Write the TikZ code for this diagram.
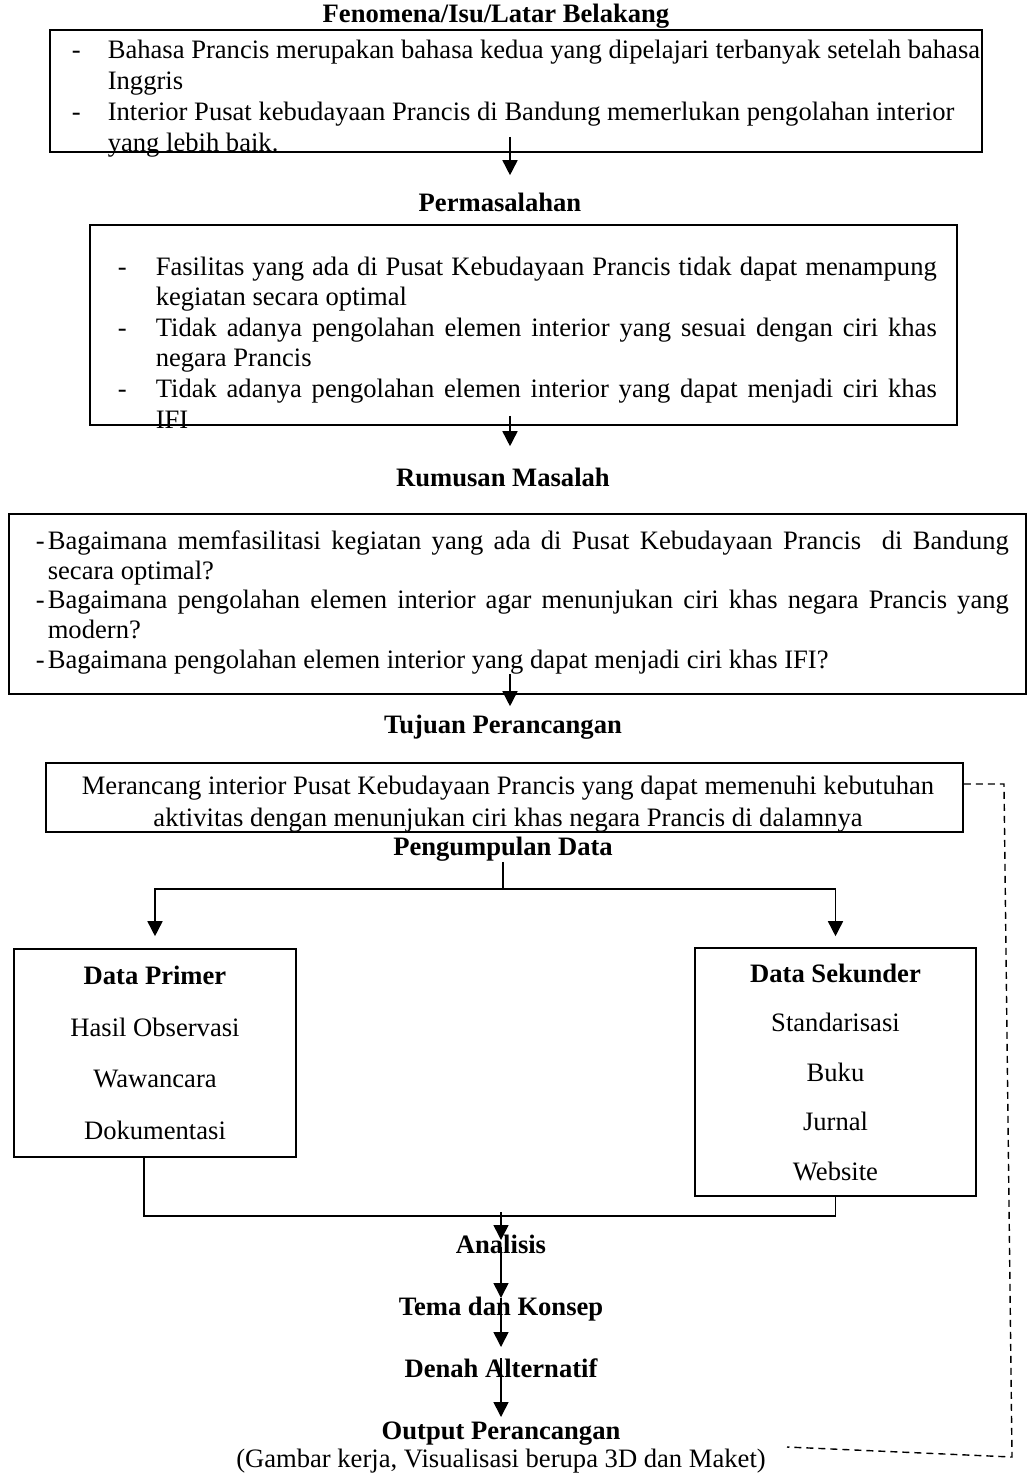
\documentclass[tikz,border=0pt]{standalone}
\usepackage{fontspec}
\setmainfont{Liberation Serif}
\usetikzlibrary{arrows.meta,calc}
\newcommand{\figfont}[1]{\fontsize{26.6pt}{#1pt}\selectfont}

\begin{document}
\begin{tikzpicture}[x=1pt,y=-1pt,->,>={Triangle[length=15pt,width=15pt]},line width=1.6pt,node distance=62pt,
    box/.style={draw,inner sep=0pt},
    lbl/.style={inner sep=0pt,text height=18pt,text depth=6pt,font=\figfont{31}},
    head/.style={lbl,font=\figfont{31}\bfseries},
    txt/.style={inner sep=0pt,align=left,anchor=north west},
    dashed line/.style={-,dash pattern=on 7pt off 5pt,line width=1.4pt}]
    \useasboundingbox (0,0) rectangle (1028,1475);

    \node[head] (fenh) at (496,16) {Fenomena/Isu/Latar Belakang};
    \node[box,minimum width=932pt,minimum height=122pt] (fen) at (516,91) {};
    \node[txt,font=\figfont{31}] (fent) at (71,38.8) {\makebox[36pt][l]{-}Bahasa Prancis merupakan bahasa kedua yang dipelajari terbanyak setelah bahasa\\\hspace*{36pt}Inggris\\\makebox[36pt][l]{-}Interior Pusat kebudayaan Prancis di Bandung memerlukan pengolahan interior\\\hspace*{36pt}yang lebih baik.};

    \node[head] (permh) at (500,205) {Permasalahan};
    \node[box,minimum width=867pt,minimum height=200pt] (perm) at (523.5,325) {};
    \node[txt,font=\figfont{30.6}] (permt) at (117,255.8) {\makebox[38pt][l]{-}\makebox[781pt][s]{Fasilitas yang ada di Pusat Kebudayaan Prancis tidak dapat menampung}\\\hspace*{38pt}kegiatan secara optimal\\\makebox[38pt][l]{-}\makebox[781pt][s]{Tidak adanya pengolahan elemen interior yang sesuai dengan ciri khas}\\\hspace*{38pt}negara Prancis\\\makebox[38pt][l]{-}\makebox[781pt][s]{Tidak adanya pengolahan elemen interior yang dapat menjadi ciri khas}\\\hspace*{38pt}IFI};

    \node[head] (rumh) at (503,480) {Rumusan Masalah};
    \node[box,minimum width=1017pt,minimum height=180pt] (rum) at (517.5,604) {};
    \node[txt,font=\figfont{29.8}] (rumt) at (47,529.8) {\llap{-\hspace{3pt}}\makebox[961pt][s]{Bagaimana memfasilitasi kegiatan yang ada di Pusat Kebudayaan Prancis\ \ di Bandung}\\secara optimal?\\\llap{-\hspace{3pt}}\makebox[961pt][s]{Bagaimana pengolahan elemen interior agar menunjukan ciri khas negara Prancis yang}\\modern?\\\llap{-\hspace{3pt}}Bagaimana pengolahan elemen interior yang dapat menjadi ciri khas IFI?};

    \node[head] (tujh) at (503,727) {Tujuan Perancangan};
    \node[box,minimum width=917pt,minimum height=69pt] (tuj) at (504.5,797.5) {};
    \node[inner sep=0pt,align=center,anchor=north,font=\figfont{32}] (tujt) at (508,774.8) {Merancang interior Pusat Kebudayaan Prancis yang dapat memenuhi kebutuhan\\aktivitas dengan menunjukan ciri khas negara Prancis di dalamnya};

    \node[head] (peng) at (503,849) {Pengumpulan Data};
    \node[box,minimum width=282pt,minimum height=208pt,align=center,font=\figfont{51.7}] (prim) at (155,1053) {\textbf{Data Primer}\\Hasil Observasi\\Wawancara\\Dokumentasi};
    \node[box,minimum width=281pt,minimum height=248pt,align=center,font=\figfont{49.5}] (sek) at (835.5,1072) {\textbf{Data Sekunder}\\Standarisasi\\Buku\\Jurnal\\Website};

    \node[head] (ana) at (501,1247) {Analisis};
    \node[head] (tema) [below of=ana] {Tema dan Konsep};
    \node[head] (denah) [below of=tema] {Denah Alternatif};
    \node[head] (out) [below of=denah] {Output Perancangan};
    \node[lbl] (outsub) [below of=out,node distance=28pt] {(Gambar kerja, Visualisasi berupa 3D dan Maket)};

    \coordinate (col) at (510,0);
    \coordinate (join) at (501,1216);
    \coordinate (dtop) at (1004,784);
    \coordinate (dbot) at (1012,1457);
    \coordinate (dend) at (787,1447);

    \draw ($(fen.south -| col)+(0,-16)$) -- ($(permh.north -| col)+(0,-17)$);
    \draw ($(perm.south -| col)+(0,-10)$) -- ($(rumh.north -| col)+(0,-21)$);
    \draw ($(rum.south -| col)+(0,-21)$) -- ($(tujh.north -| col)+(0,-8)$);
    \draw[-] (peng.south) -- ++(0,27) coordinate (split);
    \draw[shorten >=12pt] (split) -| (prim.north);
    \draw[shorten >=11pt] (split) -| (sek.north);
    \draw[-] ([xshift=-11pt]prim.south) |- (join) -| (sek.south);
    \draw ([yshift=4pt]join) -- ([yshift=7pt]ana.center);
    \draw (ana.center) -- ([yshift=11pt]tema.center);
    \draw ([yshift=11pt]tema.center) -- ([yshift=24pt]denah.center);
    \draw (denah.north) -- ([yshift=16pt]out.center);
    \draw[dashed line] (tuj.east |- dtop) -- (dtop) -- (dbot) -- (dend);
\end{tikzpicture}
\end{document}
